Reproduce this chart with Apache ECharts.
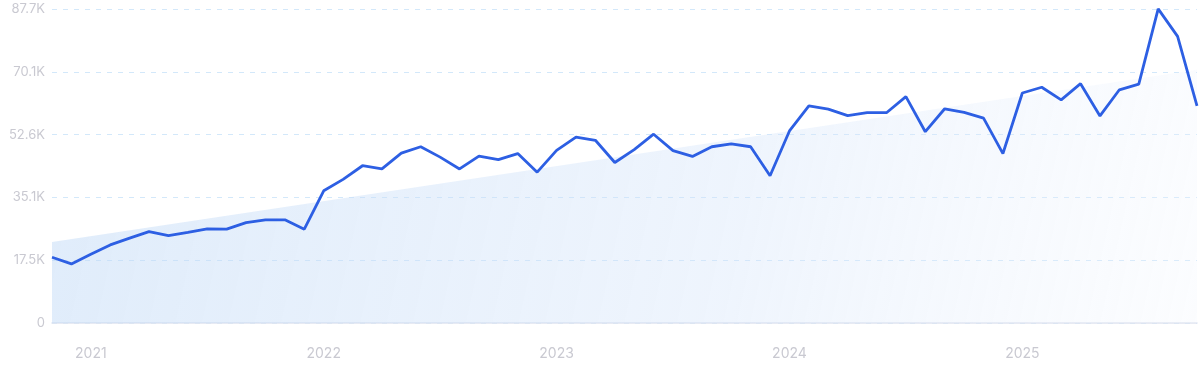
<!DOCTYPE html>
<html>
<head>
<meta charset="utf-8">
<script src="https://cdn.jsdelivr.net/npm/echarts@6/dist/echarts.min.js"></script>
<style>
html,body{margin:0;padding:0;background:#fff;}
#c{width:1200px;height:372px;}
</style>
</head>
<body>
<div id="c"></div>
<script>
const categories = [
  '2020-11','2020-12',
  '2021-01','2021-02','2021-03','2021-04','2021-05','2021-06','2021-07','2021-08','2021-09','2021-10','2021-11','2021-12',
  '2022-01','2022-02','2022-03','2022-04','2022-05','2022-06','2022-07','2022-08','2022-09','2022-10','2022-11','2022-12',
  '2023-01','2023-02','2023-03','2023-04','2023-05','2023-06','2023-07','2023-08','2023-09','2023-10','2023-11','2023-12',
  '2024-01','2024-02','2024-03','2024-04','2024-05','2024-06','2024-07','2024-08','2024-09','2024-10','2024-11','2024-12',
  '2025-01','2025-02','2025-03','2025-04','2025-05','2025-06','2025-07','2025-08','2025-09','2025-10'
];
const values = [
  18350, 16500,
  19200, 21800, 23700, 25500, 24400, 25300, 26300, 26200, 28000, 28800, 28800, 26200,
  36900, 40100, 43900, 43000, 47400, 49200, 46300, 43000, 46600, 45600, 47300, 42100,
  48200, 51900, 51000, 44800, 48400, 52700, 48100, 46500, 49200, 50000, 49200, 41100,
  53600, 60600, 59700, 57900, 58700, 58700, 63200, 53400, 59800, 58800, 57200, 47300,
  64200, 65800, 62300, 66800, 57800, 65100, 66700, 87700, 80000, 60600
];
const trendStart = 22600;
const trendEnd = 70700;
const yTickLabels = ['0', '17.5K', '35.1K', '52.6K', '70.1K', '87.7K'];
const yMax = 87650;
const yInterval = 17530;

const chart = echarts.init(document.getElementById('c'), null, {renderer: 'canvas'});
chart.setOption({
  animation: false,
  grid: {left: 52, right: 3, top: 9, bottom: 49, containLabel: false},
  xAxis: {
    type: 'category',
    data: categories,
    boundaryGap: false,
    axisLine: {show: true, lineStyle: {color: '#dfe4f0', width: 1.5}},
    axisTick: {show: false},
    axisLabel: {
      interval: function (i, v) { return v.slice(5) === '01'; },
      formatter: function (v) { return v.slice(0, 4); },
      color: '#c9c9d1',
      fontFamily: 'Inter',
      fontSize: 14,
      margin: 24
    },
    splitLine: {show: false}
  },
  yAxis: {
    type: 'value',
    min: 0,
    max: yMax,
    interval: yInterval,
    axisLine: {show: false},
    axisTick: {show: false},
    axisLabel: {
      formatter: function (v) { return yTickLabels[Math.round(v / yInterval)]; },
      color: '#c9c9d1',
      fontFamily: 'Inter',
      fontSize: 13,
      margin: 7
    },
    splitLine: {show: true, lineStyle: {color: '#d3e8fa', type: [5, 6], width: 1}}
  },
  series: [
    {
      type: 'line',
      data: [[0, trendStart], [categories.length - 1, trendEnd]],
      symbol: 'none',
      silent: true,
      lineStyle: {width: 0},
      areaStyle: {
        color: new echarts.graphic.LinearGradient(0, 0, 1, 1, [
          {offset: 0, color: 'rgba(190,216,246,0.7)'},
          {offset: 0.6, color: 'rgba(212,228,250,0.55)'},
          {offset: 1, color: 'rgba(240,245,253,0.35)'}
        ])
      },
      z: 1
    },
    {
      type: 'line',
      data: values,
      symbol: 'none',
      lineStyle: {color: '#2d5fe3', width: 2.8},
      z: 3
    }
  ]
});
</script>
</body>
</html>
